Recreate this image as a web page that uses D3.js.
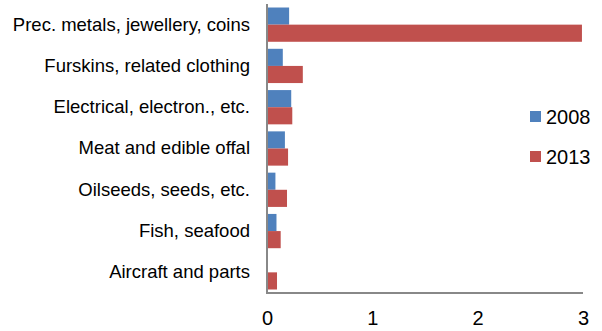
<!DOCTYPE html>
<html><head><meta charset="utf-8">
<script src="https://cdn.jsdelivr.net/npm/d3@7"></script>
<style>body{margin:0;background:#fff}svg{display:block;font-family:"Liberation Sans",Arial,sans-serif}</style>
</head><body><svg id="c" width="602" height="331"></svg>
<script>
const categories = ["Prec. metals, jewellery, coins","Furskins, related clothing","Electrical, electron., etc.","Meat and edible offal","Oilseeds, seeds, etc.","Fish, seafood","Aircraft and parts"];
const series = ["2008","2013"];
const values2008 = [0.21,0.15,0.23,0.17,0.08,0.09,0.005];
const values2013 = [2.99,0.34,0.24,0.20,0.19,0.13,0.095];
const xTicks = [0,1,2,3];
const colors = ["#4F81BD","#C0504D"];

const svg = d3.select("#c");
const x = d3.scaleLinear().domain([0,3]).range([267,583]);
const y = d3.scaleBand().domain(categories).range([4,293]).paddingInner(0.17).paddingOuter(0.085);
const ys = d3.scaleBand().domain(series).range([0,y.bandwidth()]);
const data = [values2008, values2013];

series.forEach((s,si)=>{
  svg.append("g").selectAll("rect").data(categories).join("rect")
    .attr("x", x(0))
    .attr("y", (c)=>y(c)+ys(s))
    .attr("width",(c,i)=>Math.max(0,x(data[si][i])-x(0)))
    .attr("height", ys.bandwidth())
    .attr("fill", colors[si]);
});

// y axis
const yAxis = svg.append("g").attr("transform",`translate(${x(0)},0)`).call(d3.axisLeft(y).tickSize(0).tickPadding(17));
yAxis.select(".domain").attr("stroke","#888").attr("stroke-width",2).attr("d",`M0,4V293`);
yAxis.selectAll("text").attr("font-size",18.5).attr("fill","#000").attr("font-family","Liberation Sans, Arial, sans-serif");

// x axis
const xAxis = svg.append("g").attr("transform",`translate(0,293)`).call(d3.axisBottom(x).tickValues(xTicks).tickFormat(d3.format("d")).tickSize(0).tickPadding(18));
xAxis.select(".domain").attr("stroke","#888").attr("stroke-width",2).attr("d",`M${x(0)-1},0H583`);
xAxis.selectAll("text").attr("font-size",20).attr("fill","#000").attr("font-family","Liberation Sans, Arial, sans-serif");

// legend
const lg = svg.append("g");
series.forEach((s,i)=>{
  const cy = 117 + i*40;
  lg.append("rect").attr("x",530).attr("y",cy-6).attr("width",11).attr("height",11).attr("fill",colors[i]);
  lg.append("text").attr("x",546).attr("y",cy).attr("dy","0.35em").attr("font-size",20).attr("fill","#000").text(s);
});
</script></body></html>
